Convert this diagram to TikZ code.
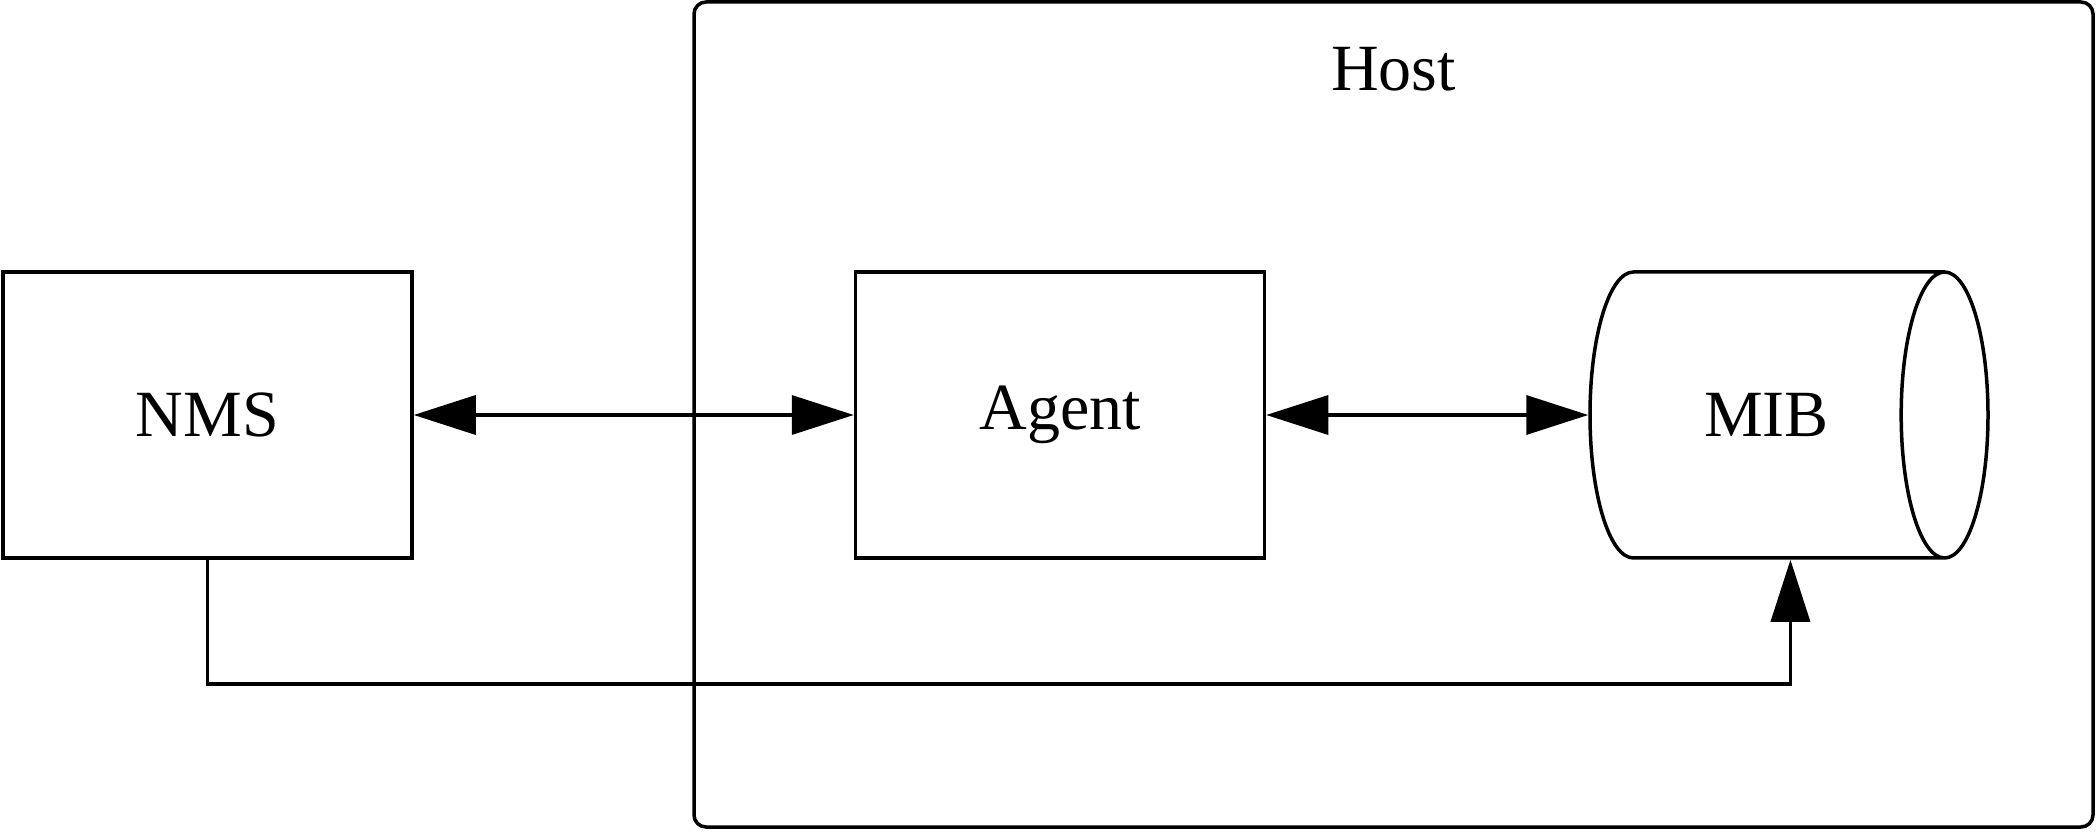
\documentclass[tikz,border=0pt]{standalone}
\usepackage{fontspec}
\setmainfont{Liberation Serif}
\usepackage{tikz}
\usetikzlibrary{arrows.meta,positioning,shapes.geometric}

\begin{document}
\begin{tikzpicture}[
  x=1pt,y=1pt,
  node distance=440pt,
  line width=3.5pt,
  box/.style={draw,minimum width=409pt,minimum height=286pt,
    inner sep=0pt,font=\fontsize{66}{70}\selectfont},
  store/.style={box,cylinder,minimum width=286pt,minimum height=398pt,aspect=2},
  arrow/.style={-{Triangle[length=62pt,width=39pt]}},
  biarrow/.style={{Triangle[length=62pt,width=39pt]}-{Triangle[length=62pt,width=39pt]}}]
  \useasboundingbox (0,0) rectangle (2097,831);
  % the host frame
  \node[draw,rounded corners=12pt,minimum width=1399pt,minimum height=825pt,
    inner sep=0pt] (host) at (1393.5,416.5) {};
  \node[font=\fontsize{66}{70}\selectfont,below=42pt of host.north] (hostlbl) {Host};
  % components
  \node[box] (nms) at (207.5,416) {NMS};
  \node[box,right=of nms] (agent) {Agent};
  \node[store,right=322pt of agent] (mib) {MIB};
  \draw[biarrow] (nms)--(agent);
  \draw[biarrow] (agent)--(mib);
  \draw[arrow] (nms.south)--++(0,-124) -| ([xshift=24pt]mib.south);
\end{tikzpicture}
\end{document}
